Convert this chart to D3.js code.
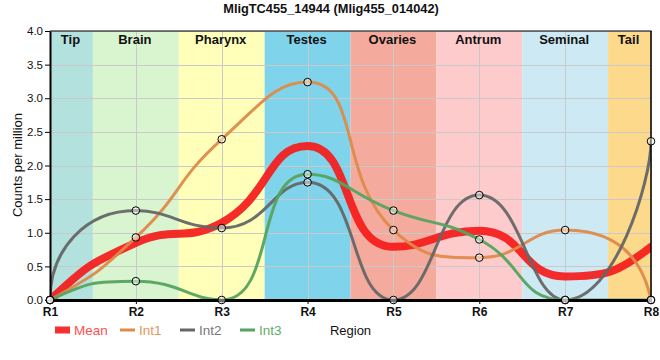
<!DOCTYPE html>
<html>
<head>
<meta charset="utf-8">
<script src="https://cdn.jsdelivr.net/npm/d3@7"></script>
<style>
  html, body { margin: 0; padding: 0; background: #fff; }
  svg { display: block; font-family: "Liberation Sans", Arial, sans-serif; }
</style>
</head>
<body>
<svg id="chart" width="660" height="360"></svg>
<script>
// ---- data ----
const regions = ["R1", "R2", "R3", "R4", "R5", "R6", "R7", "R8"];
const tissues = ["Tip", "Brain", "Pharynx", "Testes", "Ovaries", "Antrum", "Seminal", "Tail"];
const meanValues = [0, 0.85, 1.15, 2.29, 0.79, 1.03, 0.35, 0.79];
const int1Values = [0, 0.93, 2.39, 3.24, 1.04, 0.63, 1.04, 0];
const int2Values = [0, 1.33, 1.07, 1.75, 0, 1.56, 0, 2.36];
const int3Values = [0, 0.28, 0, 1.87, 1.33, 0.90, 0, 0];
const yTicks = [0, 0.5, 1, 1.5, 2, 2.5, 3, 3.5, 4];
const seriesNames = ["Mean", "Int1", "Int2", "Int3"];
const titleText = "MligTC455_14944 (Mlig455_014042)";
const yLabel = "Counts per million";
const xLabel = "Region";

// ---- styles ----
const bandColors = ["#b3e2de", "#d9f5d0", "#ffffb9", "#7fd3ea", "#f4ab9d", "#fdcbcb", "#cdeaf4", "#fdd98b"];
const lineColors = { Mean: "#f51a1a", Int1: "#de8a4a", Int2: "#666666", Int3: "#55a35f" };
const textColors = { Mean: "#ff5050", Int1: "#e39660", Int2: "#777777", Int3: "#62ab6b" };
const lineWidths = { Mean: 8, Int1: 3, Int2: 3, Int3: 3 };

const svg = d3.select("#chart");
const pLeft = 50, pRight = 651, pTop = 31, pBottom = 300;

const x = d3.scalePoint().domain(regions).range([pLeft, pRight]);
const y = d3.scaleLinear().domain([0, 4]).range([pBottom, pTop]);
const step = x.step();

// custom smooth curve (bezier spline with extremum clamping)
function SmoothCurve(context) { this._context = context; }
SmoothCurve.prototype = {
  areaStart() {}, areaEnd() {},
  lineStart() { this._p = []; },
  point(px, py) { this._p.push([+px, +py]); },
  lineEnd() {
    const p = this._p, n = p.length, c = this._context, s = 0.5;
    if (!n) return;
    c.moveTo(p[0][0], p[0][1]);
    if (n === 1) return;
    if (n === 2) { c.lineTo(p[1][0], p[1][1]); return; }
    const cin = new Array(n), cout = new Array(n);
    for (let i = 1; i < n - 1; i++) {
      const [px, py] = p[i - 1], [cx, cy] = p[i], [nx, ny] = p[i + 1];
      const lp = Math.hypot(cx - px, cy - py), ln = Math.hypot(nx - cx, ny - cy);
      const r = ln / (lp + ln);
      let vx = nx - px, vy = ny - py;
      let ox = cx + vx * s * r, oy = cy + vy * s * r;
      ox = Math.min(ox, Math.max(nx, cx)); oy = Math.min(oy, Math.max(ny, cy));
      ox = Math.max(ox, Math.min(nx, cx)); oy = Math.max(oy, Math.min(ny, cy));
      vx = ox - cx; vy = oy - cy;
      let ix = cx - vx * lp / ln, iy = cy - vy * lp / ln;
      ix = Math.min(ix, Math.max(px, cx)); iy = Math.min(iy, Math.max(py, cy));
      ix = Math.max(ix, Math.min(px, cx)); iy = Math.max(iy, Math.min(py, cy));
      vx = cx - ix; vy = cy - iy;
      ox = cx + vx * ln / lp; oy = cy + vy * ln / lp;
      cin[i] = [ix, iy]; cout[i] = [ox, oy];
    }
    const mirror = (vx, vy, a, b) => {
      const L = Math.hypot(b[0] - a[0], b[1] - a[1]);
      const ux = (b[0] - a[0]) / L, uy = (b[1] - a[1]) / L, d = vx * ux + vy * uy;
      return [2 * d * ux - vx, 2 * d * uy - vy];
    };
    const clampTo = (pt, a, b) => [
      Math.max(Math.min(a[0], b[0]), Math.min(Math.max(a[0], b[0]), pt[0])),
      Math.max(Math.min(a[1], b[1]), Math.min(Math.max(a[1], b[1]), pt[1]))
    ];
    {
      const v = [p[1][0] - cin[1][0], p[1][1] - cin[1][1]];
      const m = mirror(v[0], v[1], p[0], p[1]);
      cout[0] = clampTo([p[0][0] + m[0], p[0][1] + m[1]], p[0], p[1]);
    }
    {
      const w = [cout[n - 2][0] - p[n - 2][0], cout[n - 2][1] - p[n - 2][1]];
      const m = mirror(w[0], w[1], p[n - 2], p[n - 1]);
      cin[n - 1] = clampTo([p[n - 1][0] - m[0], p[n - 1][1] - m[1]], p[n - 2], p[n - 1]);
    }
    for (let i = 1; i < n; i++) {
      c.bezierCurveTo(cout[i - 1][0], cout[i - 1][1], cin[i][0], cin[i][1], p[i][0], p[i][1]);
    }
  }
};
const curveSmooth = ctx => new SmoothCurve(ctx);

// ---- bands ----
const bandG = svg.append("g");
regions.forEach((r, i) => {
  const x0 = Math.max(pLeft, x(r) - step / 2), x1 = Math.min(pRight, x(r) + step / 2);
  bandG.append("rect").attr("x", x0).attr("y", pTop).attr("width", x1 - x0).attr("height", pBottom - pTop)
    .attr("fill", bandColors[i]);
});

// ---- grid ----
const grid = svg.append("g").attr("stroke", "#c9c9c9").attr("stroke-width", 1);
yTicks.forEach(t => {
  grid.append("line").attr("x1", pLeft).attr("x2", pRight).attr("y1", Math.round(y(t)) + 0.5).attr("y2", Math.round(y(t)) + 0.5);
});
regions.forEach(r => {
  grid.append("line").attr("x1", Math.round(x(r)) + 0.5).attr("x2", Math.round(x(r)) + 0.5).attr("y1", pTop).attr("y2", pBottom);
});

// ---- band labels ----
regions.forEach((r, i) => {
  const x0 = Math.max(pLeft, x(r) - step / 2), x1 = Math.min(pRight, x(r) + step / 2);
  svg.append("text").attr("x", (x0 + x1) / 2 - 1).attr("y", 44).attr("text-anchor", "middle")
    .attr("font-size", 13).attr("font-weight", "bold").attr("fill", "#111").text(tissues[i]);
});

// ---- lines ----
svg.append("clipPath").attr("id", "plotclip").append("rect")
  .attr("x", pLeft).attr("y", pTop).attr("width", pRight - pLeft).attr("height", pBottom - pTop);
const seriesData = { Mean: meanValues, Int1: int1Values, Int2: int2Values, Int3: int3Values };
const line = d3.line().x((d, i) => x(regions[i])).y(d => y(d)).curve(curveSmooth);
const linesG = svg.append("g").attr("clip-path", "url(#plotclip)");
seriesNames.forEach(name => {
  linesG.append("path").datum(seriesData[name]).attr("d", line)
    .attr("fill", "none").attr("stroke", lineColors[name]).attr("stroke-width", lineWidths[name])
    .attr("stroke-opacity", name === "Mean" ? 0.92 : 0.95).attr("stroke-linecap", "round");
});

// ---- axes ----
const yAxis = svg.append("g").attr("transform", `translate(${pLeft},0)`)
  .call(d3.axisLeft(y).tickValues(yTicks).tickFormat(d3.format(".1f")).tickSize(5).tickSizeOuter(0).tickPadding(2));
yAxis.select(".domain").attr("stroke", "#000").attr("stroke-width", 2);
yAxis.selectAll("text").attr("font-size", 11.5).attr("font-family", "Liberation Sans, Arial, sans-serif").attr("fill", "#111");

const xAxis = svg.append("g").attr("transform", `translate(0,${pBottom})`)
  .call(d3.axisBottom(x).tickSize(4).tickSizeOuter(0).tickPadding(3));
xAxis.select(".domain").attr("stroke", "#000").attr("stroke-width", 3);
xAxis.selectAll("text").attr("font-size", 12).attr("font-weight", "bold")
  .attr("font-family", "Liberation Sans, Arial, sans-serif").attr("fill", "#111");

// frame top/right
svg.append("line").attr("x1", pLeft).attr("x2", pRight + 0.5).attr("y1", pTop).attr("y2", pTop).attr("stroke", "#000").attr("stroke-width", 1);
svg.append("line").attr("x1", pRight).attr("x2", pRight).attr("y1", pTop).attr("y2", pBottom).attr("stroke", "#000").attr("stroke-width", 1.5);

// ---- points ----
const ptsG = svg.append("g");
["Int1", "Int2", "Int3"].forEach(name => {
  ptsG.selectAll(null).data(seriesData[name]).enter().append("circle")
    .attr("cx", (d, i) => x(regions[i])).attr("cy", d => y(d)).attr("r", 3.8)
    .attr("fill", "rgba(255,255,255,0.45)").attr("stroke", "#000").attr("stroke-width", 1);
});

// ---- title & labels ----
svg.append("text").attr("x", 331).attr("y", 13).attr("text-anchor", "middle")
  .attr("font-size", 12.8).attr("font-weight", "bold").attr("fill", "#111").text(titleText);
svg.append("text").attr("transform", "translate(22,165) rotate(-90)").attr("text-anchor", "middle")
  .attr("font-size", 13).attr("fill", "#111").text(yLabel);
svg.append("text").attr("x", (pLeft + pRight) / 2).attr("y", 335).attr("text-anchor", "middle")
  .attr("font-size", 13).attr("fill", "#111").text(xLabel);

// ---- legend ----
const legendX = [55, 120, 180, 240];
seriesNames.forEach((name, i) => {
  const lx = legendX[i];
  if (name === "Mean") {
    svg.append("rect").attr("x", lx).attr("y", 326.5).attr("width", 15).attr("height", 7).attr("fill", lineColors[name]).attr("opacity", 0.9);
  } else {
    svg.append("line").attr("x1", lx).attr("x2", lx + 15).attr("y1", 330).attr("y2", 330)
      .attr("stroke", lineColors[name]).attr("stroke-width", 3);
  }
  svg.append("text").attr("x", lx + 19).attr("y", 335).attr("font-size", 13.5)
    .attr("fill", textColors[name]).text(name);
});
</script>
</body>
</html>
